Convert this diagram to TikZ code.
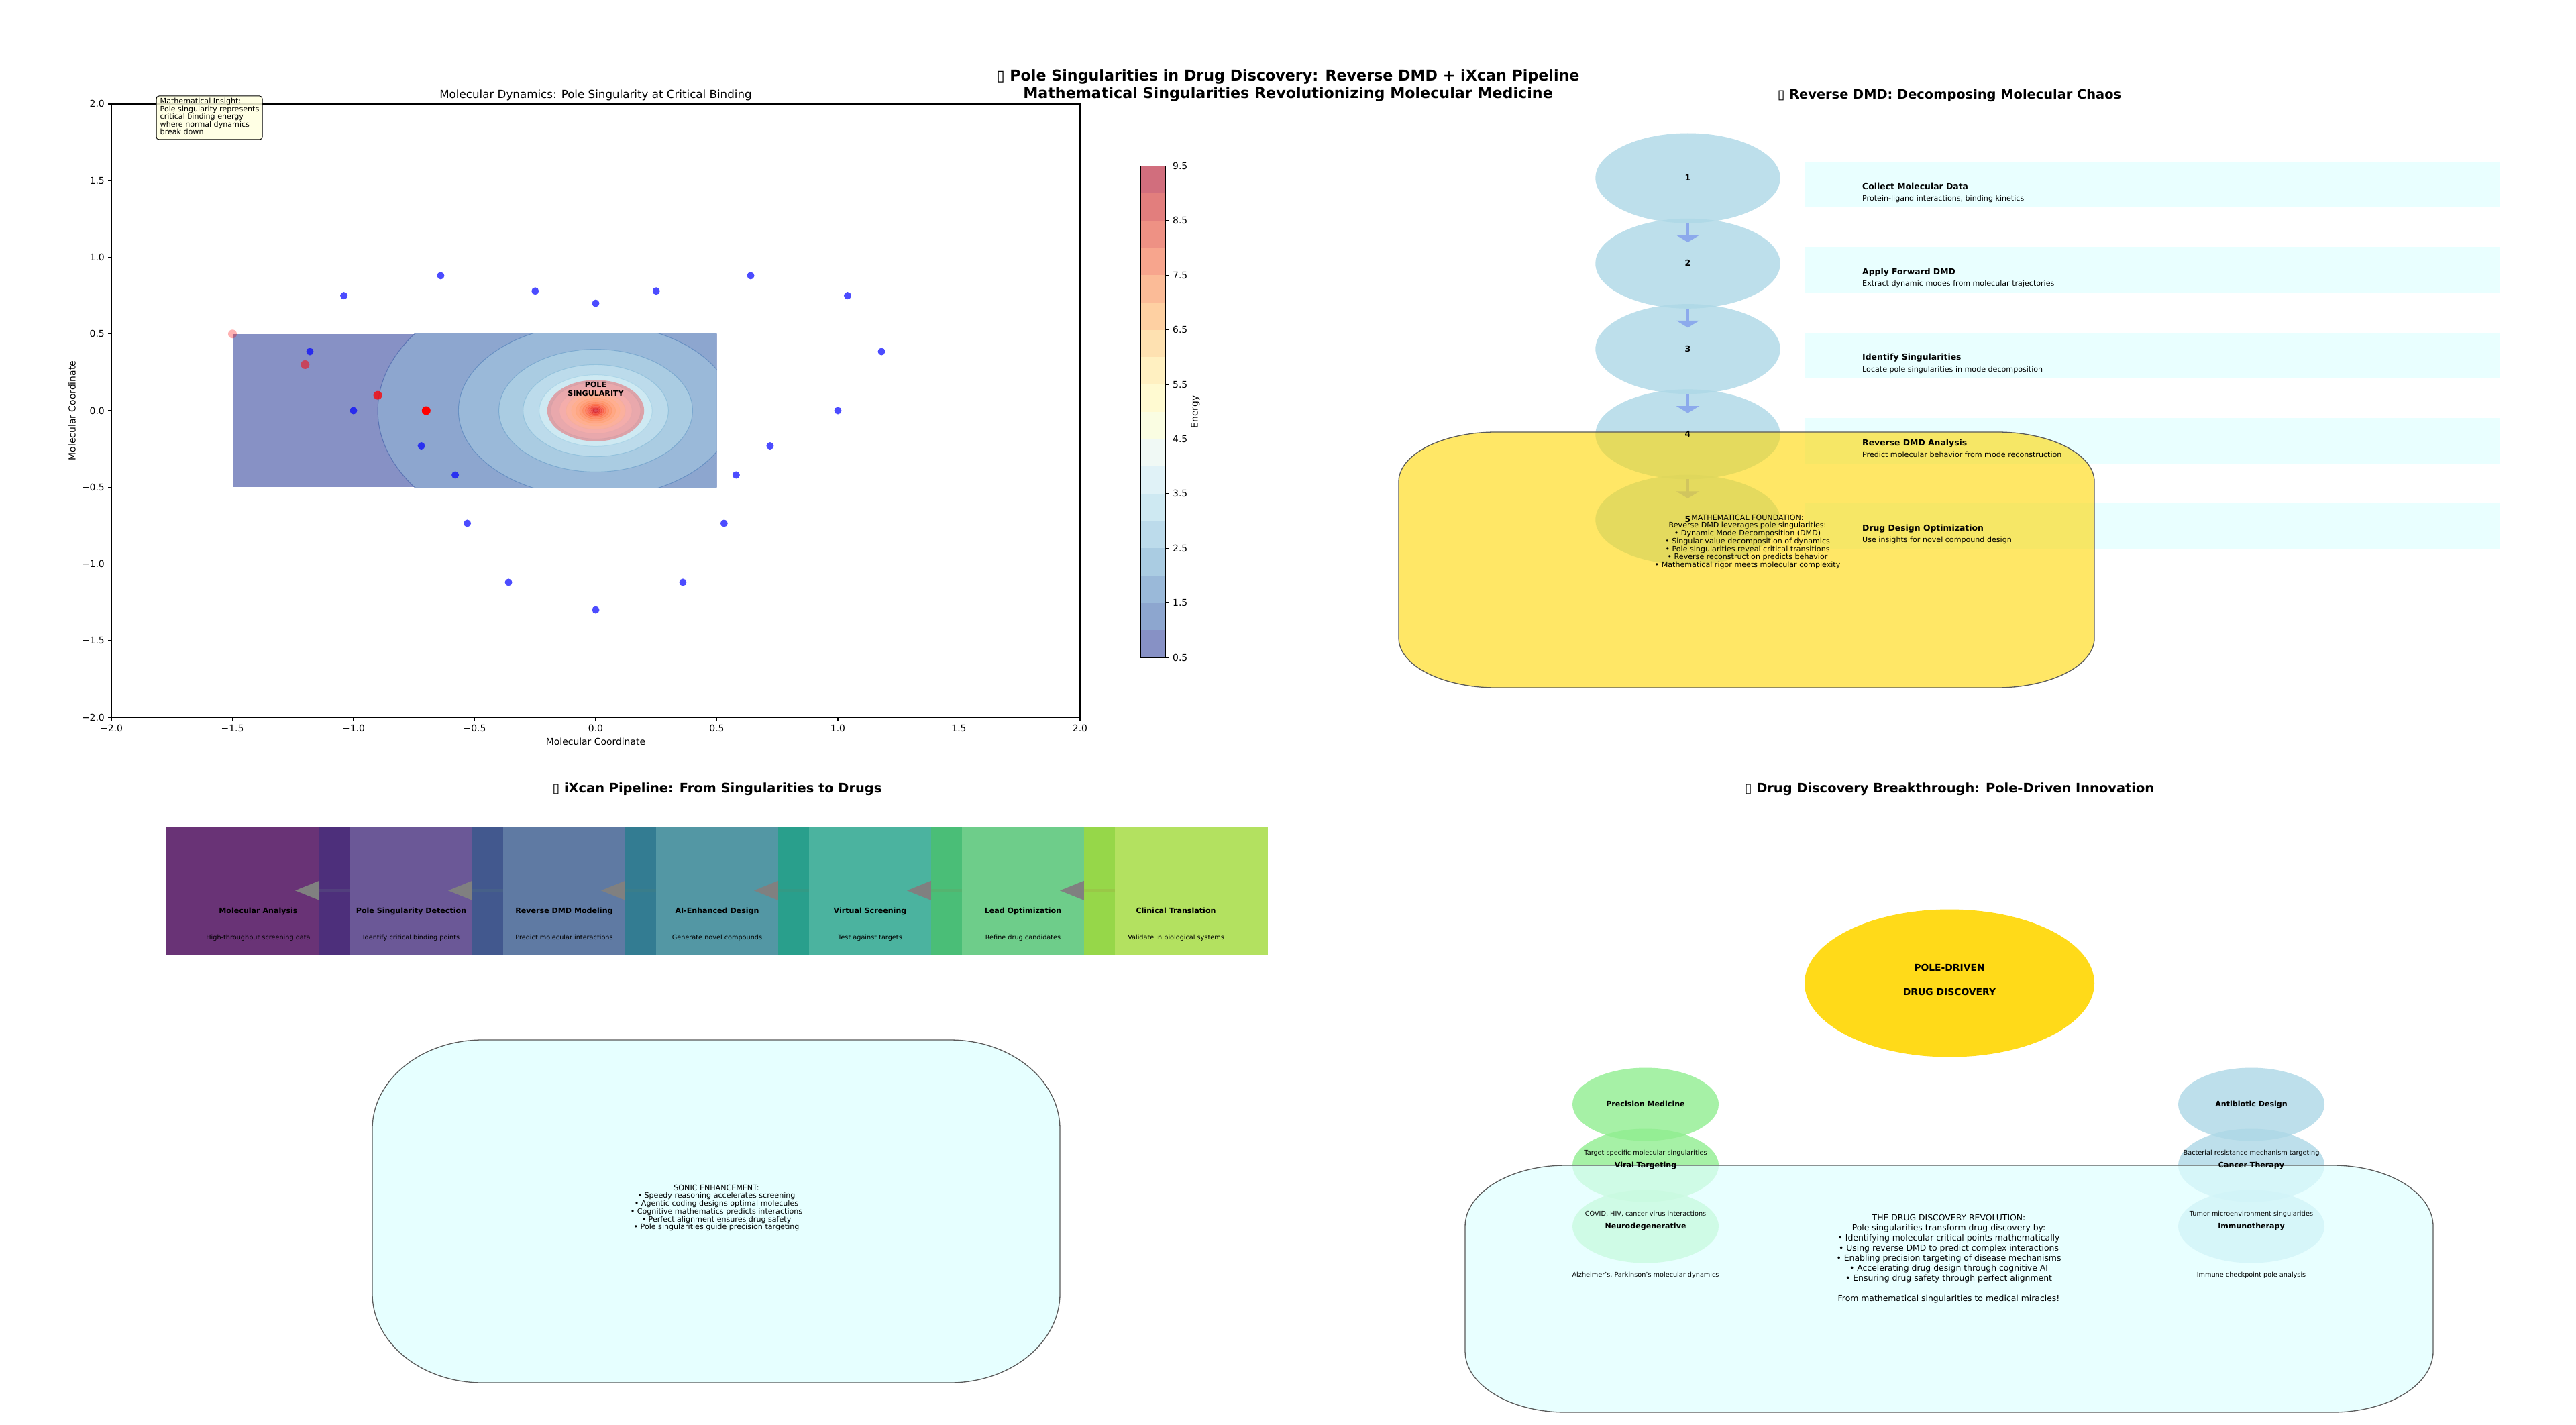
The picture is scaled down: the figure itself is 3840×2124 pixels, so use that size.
\documentclass[tikz,border=0pt]{standalone}
\usepackage{fontspec}
\setmainfont{DejaVu Sans}
\usetikzlibrary{calc,shapes.geometric,arrows.meta}
\newcommand\fsz[1]{\fontsize{#1pt}{#1pt}\selectfont}
\definecolor{b0}{RGB}{135,145,197}
\definecolor{b1}{RGB}{141,166,207}
\definecolor{b2}{RGB}{154,185,217}
\definecolor{b3}{RGB}{170,204,226}
\definecolor{b4}{RGB}{188,219,235}
\definecolor{b5}{RGB}{206,233,242}
\definecolor{b6}{RGB}{224,242,247}
\definecolor{b7}{RGB}{240,249,245}
\definecolor{b8}{RGB}{250,253,226}
\definecolor{b9}{RGB}{255,250,209}
\definecolor{b10}{RGB}{255,240,193}
\definecolor{b11}{RGB}{254,225,177}
\definecolor{b12}{RGB}{254,208,162}
\definecolor{b13}{RGB}{251,187,151}
\definecolor{b14}{RGB}{247,165,141}
\definecolor{b15}{RGB}{238,145,132}
\definecolor{b16}{RGB}{226,126,125}
\definecolor{b17}{RGB}{209,110,125}
\definecolor{l1}{RGB}{60,89,166}
\definecolor{l2}{RGB}{74,123,183}
\definecolor{l3}{RGB}{100,154,199}
\definecolor{l4}{RGB}{128,183,214}
\definecolor{l5}{RGB}{159,207,228}
\definecolor{l6}{RGB}{189,226,238}
\definecolor{l7}{RGB}{218,240,246}
\definecolor{l8}{RGB}{238,248,223}
\definecolor{l9}{RGB}{255,255,191}
\definecolor{l10}{RGB}{254,238,165}
\definecolor{l11}{RGB}{254,218,139}
\definecolor{l12}{RGB}{253,191,113}
\definecolor{l13}{RGB}{251,160,90}
\definecolor{l14}{RGB}{246,123,74}
\definecolor{l15}{RGB}{234,89,58}
\definecolor{l16}{RGB}{218,55,42}
\definecolor{l17}{RGB}{193,27,39}
\definecolor{v0}{RGB}{68,1,84}
\definecolor{v1}{RGB}{71,47,125}
\definecolor{v2}{RGB}{56,89,140}
\definecolor{v3}{RGB}{40,125,142}
\definecolor{v4}{RGB}{31,161,135}
\definecolor{v5}{RGB}{74,193,109}
\definecolor{v6}{RGB}{160,218,57}
\definecolor{lblue}{RGB}{173,216,230}
\definecolor{lgreen}{RGB}{144,238,144}
\definecolor{lcyan}{RGB}{224,255,255}
\definecolor{gold}{RGB}{255,215,0}
\definecolor{lyellow}{RGB}{255,255,224}
\definecolor{arrowblue}{RGB}{140,170,236}
\definecolor{edgegray}{RGB}{90,90,90}
\definecolor{pipegray}{RGB}{128,128,128}
\tikzset{
  txt/.style={inner sep=0pt, anchor=base},
  txtw/.style={inner sep=0pt, anchor=base west},
  txte/.style={inner sep=0pt, anchor=base east},
  blob/.style={ellipse, inner sep=0pt, outer sep=0pt},
  rrbox/.style n args={6}{insert path={(#1+#5,#2) -- (#3-#5,#2)
    arc[start angle=90,end angle=0,x radius=#5pt,y radius=#6pt] -- (#3,#4-#6)
    arc[start angle=0,end angle=-90,x radius=#5pt,y radius=#6pt] -- (#1+#5,#4)
    arc[start angle=-90,end angle=-180,x radius=#5pt,y radius=#6pt] -- (#1,#2+#6)
    arc[start angle=180,end angle=90,x radius=#5pt,y radius=#6pt] -- cycle}},
}
\begin{document}
\begin{tikzpicture}[x=1pt,y=-1pt]
\useasboundingbox (0,0) rectangle (3840,2124);
\fill[white] (0,0) rectangle (3840,2124);

% ---------- main title
\node[txt, font=\fsz{22.2}\bfseries] (maintitle1) at (1920,121) {{\mdseries ▯} Pole Singularities in Drug Discovery: Reverse DMD + iXcan Pipeline};
\node[txt, font=\fsz{22.2}\bfseries] (maintitle2) at (1920,147) {Mathematical Singularities Revolutionizing Molecular Medicine};

% ---------- panel 1: energy landscape
\begin{scope}[shift={(888,612)}, x=361pt, y=228.5pt]
  \begin{scope}
    \clip (-1.5,-0.5) rectangle (0.5,0.5);
    \fill[b0] (-1.5,-0.5) rectangle (0.5,0.5);
    \foreach \k/\r in {1/0.9,2/0.56667,3/0.4,4/0.3,5/0.23333,6/0.18571,7/0.15,8/0.12222,9/0.1,10/0.08182,11/0.06667,12/0.05385,13/0.04286,14/0.03333,15/0.025,16/0.01765,17/0.01111}
      \fill[b\k] (0,0) ellipse [x radius=\r*361pt, y radius=\r*228.5pt];
    \foreach \k/\r in {1/0.9,2/0.56667,3/0.4,4/0.3,5/0.23333,6/0.18571,7/0.15,8/0.12222,9/0.1,10/0.08182,11/0.06667,12/0.05385,13/0.04286,14/0.03333,15/0.025,16/0.01765,17/0.01111}
      \draw[l\k, opacity=0.6, line width=1pt] (0,0) ellipse [x radius=\r*361pt, y radius=\r*228.5pt];
  \end{scope}
  \fill[red, opacity=0.3] (0,0) ellipse [x radius=72.2pt, y radius=45.7pt];
  \foreach \p in {(-1.04,0.75),(-0.64,0.88),(-0.25,0.78),(0,0.70),(0.25,0.78),(0.64,0.88),(1.04,0.75),(-1.18,0.385),(1.18,0.385),(-1,0),(1,0),(-0.72,-0.23),(0.72,-0.23),(-0.58,-0.42),(0.58,-0.42),(-0.53,-0.735),(0.53,-0.735),(-0.36,-1.12),(0.36,-1.12),(0,-1.30)}
    \fill[blue, opacity=0.7] \p circle [radius=5.5pt];
  \fill[red, opacity=0.3] (-1.5,0.5) circle [radius=6.5pt];
  \fill[red, opacity=0.53] (-1.2,0.3) circle [radius=6.5pt];
  \fill[red, opacity=0.77] (-0.9,0.1) circle [radius=6.5pt];
  \fill[red] (-0.7,0) circle [radius=6.5pt];
\end{scope}
\node[txt, font=\fsz{11.1}\bfseries] (pole1) at (888,577) {POLE};
\node[txt, font=\fsz{11.1}\bfseries] (pole2) at (888,590) {SINGULARITY};

\draw[line width=1.1pt] (166,155) rectangle (1610,1069);
\foreach \l [count=\i from 0] in {−2.0,−1.5,−1.0,−0.5,0.0,0.5,1.0,1.5,2.0} {
  \draw[line width=1.1pt] ({166+180.5*\i},1069) -- ({166+180.5*\i},1074);
  \node[txt, font=\fsz{13.9}] (xt\i) at ({166+180.5*\i},1090) {\l};
}
\foreach \l [count=\i from 0] in {2.0,1.5,1.0,0.5,0.0,−0.5,−1.0,−1.5,−2.0} {
  \draw[line width=1.1pt] (166,{155+114.25*\i}) -- (161,{155+114.25*\i});
  \node[txte, font=\fsz{13.9}] (yt\i) at (156,{160+114.25*\i}) {\l};
}
\node[txt, font=\fsz{13.9}] (xlab) at (888,1110) {Molecular Coordinate};
\node[inner sep=0pt, font=\fsz{13.9}, rotate=90] (ylab) at (107.5,612) {Molecular Coordinate};
\node[txt, font=\fsz{16.7}] (ptitle) at (888,147) {Molecular Dynamics: Pole Singularity at Critical Binding};

% annotation
\path[fill=lyellow, fill opacity=0.85, draw=black, line width=1pt, rounded corners=4pt] (233,143) rectangle (391,208);
\foreach \l [count=\i from 0] in {Mathematical Insight:,Pole singularity represents,critical binding energy,where normal dynamics,break down}
  \node[txtw, font=\fsz{11.1}] (ins\i) at (238.5,{155+11.5*\i}) {\l};

% colorbar
\foreach \k in {0,...,17}
  \fill[b\k] (1700,{980-40.694*(\k+1)}) rectangle (1737,{980-40.694*\k});
\draw[line width=1.1pt] (1700,247.5) rectangle (1737,980);
\foreach \l [count=\i from 0] in {0.5,1.5,2.5,3.5,4.5,5.5,6.5,7.5,8.5,9.5} {
  \draw[line width=1.1pt] (1737,{980-81.389*\i}) -- (1742,{980-81.389*\i});
  \node[txtw, font=\fsz{13.9}] (cb\i) at (1748,{985-81.389*\i}) {\l};
}
\node[inner sep=0pt, font=\fsz{13.9}, rotate=90] (cblab) at (1782,614) {Energy};

% ---------- panel 2: Reverse DMD
\node[txt, font=\fsz{19.4}\bfseries] (rtitle) at (2906,148) {{\mdseries ▯} Reverse DMD: Decomposing Molecular Chaos};
\foreach \i in {0,...,4}
  \node[blob, minimum width=275.4pt, minimum height=134pt, fill=lblue, fill opacity=0.8] (step\i) at (2516,{265.5+127.3*\i}) {};
\foreach \i in {0,...,4}
  \fill[lcyan, opacity=0.7] (2690,{241+127.3*\i}) rectangle (3727,{309+127.3*\i});
\foreach \i in {0,...,3}
  \draw[arrowblue, line width=3.3pt, -{Triangle[width=34pt,length=10.5pt]}] (step\i.south) -- ++(0,28.5);
\path[fill=gold, fill opacity=0.6, draw=edgegray, line width=1.3pt, rrbox={2085}{644}{3122}{1025}{145}{74}];
\foreach \i in {0,...,4} {
  \pgfmathtruncatemacro\n{\i+1}
  \node[txt, font=\fsz{12.4}\bfseries] (num\i) at (2516,{269.6+127.3*\i}) {\n};
}
\foreach \i/\ti/\de in {0/Collect Molecular Data/{Protein-ligand interactions, binding kinetics},1/Apply Forward DMD/Extract dynamic modes from molecular trajectories,2/Identify Singularities/Locate pole singularities in mode decomposition,3/Reverse DMD Analysis/Predict molecular behavior from mode reconstruction,4/Drug Design Optimization/Use insights for novel compound design} {
  \node[txtw, font=\fsz{12.4}\bfseries] (st\i) at (2776,{282.3+127.3*\i}) {\ti};
  \node[txtw, font=\fsz{11.1}] (sd\i) at (2776,{299.4+127.3*\i}) {\de};
}
\foreach \l [count=\i from 0] in {MATHEMATICAL FOUNDATION:,Reverse DMD leverages pole singularities:,• Dynamic Mode Decomposition (DMD),• Singular value decomposition of dynamics,• Pole singularities reveal critical transitions,• Reverse reconstruction predicts behavior,• Mathematical rigor meets molecular complexity}
  \node[txt, font=\fsz{11.1}] (mf\i) at (2605,{775+11.75*\i}) {\l};

% ---------- panel 3: iXcan pipeline
\node[txt, font=\fsz{19.4}\bfseries] (ptitle3) at (1069,1181.7) {{\mdseries ▯} iXcan Pipeline: From Singularities to Drugs};
\foreach \i in {0,...,6} {
  \node[rectangle, inner sep=0pt, outer sep=0pt, minimum width=274pt, minimum height=191pt, fill=v\i, fill opacity=0.8] (pipe\i) at ({385+228*\i},1327.5) {};
  \ifnum\i<6
    \fill[pipegray] ({476+228*\i},1325.3) rectangle ({522+228*\i},1329.3);
    \fill[pipegray] ({440+228*\i},1327.3) -- ({476+228*\i},1312.8) -- ({476+228*\i},1341.8) -- cycle;
  \fi
}
\foreach \i/\ti/\de in {0/Molecular Analysis/High-throughput screening data,1/Pole Singularity Detection/Identify critical binding points,2/Reverse DMD Modeling/Predict molecular interactions,3/AI-Enhanced Design/Generate novel compounds,4/Virtual Screening/Test against targets,5/Lead Optimization/Refine drug candidates,6/Clinical Translation/Validate in biological systems} {
  \node[txt, font=\fsz{11.1}\bfseries] (pt\i) at ({385+228*\i},1361.7) {\ti};
  \node[txt, font=\fsz{9.7}] (pd\i) at ({385+228*\i},1400.7) {\de};
}
\path[fill=lcyan, fill opacity=0.8, draw=edgegray, line width=1.3pt, rrbox={555}{1550}{1580}{2061}{164}{133}];
\foreach \l [count=\i from 0] in {SONIC ENHANCEMENT:,• Speedy reasoning accelerates screening,• Agentic coding designs optimal molecules,• Cognitive mathematics predicts interactions,• Perfect alignment ensures drug safety,• Pole singularities guide precision targeting}
  \node[txt, font=\fsz{11.1}] (so\i) at (1068,{1774+11.75*\i}) {\l};

% ---------- panel 4: breakthrough
\node[txt, font=\fsz{19.4}\bfseries] (ptitle4) at (2906,1181.5) {{\mdseries ▯} Drug Discovery Breakthrough: Pole-Driven Innovation};
\node[blob, minimum width=432pt, minimum height=220pt, fill=gold, fill opacity=0.9] (core) at (2906,1465.5) {};
\foreach \i in {0,1,2} {
  \node[blob, minimum width=218pt, minimum height=109pt, fill=lgreen, fill opacity=0.8] (lapp\i) at (2453,{1646+91*\i}) {};
  \node[blob, minimum width=218pt, minimum height=109pt, fill=lblue, fill opacity=0.8] (rapp\i) at (3356,{1646+91*\i}) {};
}
\path[fill=lcyan, fill opacity=0.72, draw=edgegray, line width=1.3pt, rrbox={2184}{1737}{3627}{2105}{150}{91}];
\node[txt, font=\fsz{13.9}\bfseries] (core1) at (2906,1447.4) {POLE-DRIVEN};
\node[txt, font=\fsz{13.9}\bfseries] (core2) at (2906,1483.7) {DRUG DISCOVERY};
\foreach \i/\ti/\de in {0/Precision Medicine/Target specific molecular singularities,1/Viral Targeting/{COVID, HIV, cancer virus interactions},2/Neurodegenerative/{Alzheimer's, Parkinson's molecular dynamics}} {
  \node[txt, font=\fsz{11.1}\bfseries] (lt\i) at (2453,{1649+91*\i}) {\ti};
  \node[txt, font=\fsz{9.7}] (ld\i) at (2453,{1721.7+91*\i}) {\de};
}
\foreach \i/\ti/\de in {0/Antibiotic Design/Bacterial resistance mechanism targeting,1/Cancer Therapy/Tumor microenvironment singularities,2/Immunotherapy/Immune checkpoint pole analysis} {
  \node[txt, font=\fsz{11.1}\bfseries] (rt\i) at (3356,{1649+91*\i}) {\ti};
  \node[txt, font=\fsz{9.7}] (rd\i) at (3356,{1721.7+91*\i}) {\de};
}
\foreach \l [count=\i from 0] in {THE DRUG DISCOVERY REVOLUTION:,Pole singularities transform drug discovery by:,• Identifying molecular critical points mathematically,• Using reverse DMD to predict complex interactions,• Enabling precision targeting of disease mechanisms,• Accelerating drug design through cognitive AI,• Ensuring drug safety through perfect alignment}
  \node[txt, font=\fsz{12.4}] (rev\i) at (2905,{1819+15*\i}) {\l};
\node[txt, font=\fsz{12.4}] (rev8) at (2905,1939) {From mathematical singularities to medical miracles!};
\end{tikzpicture}
\end{document}
